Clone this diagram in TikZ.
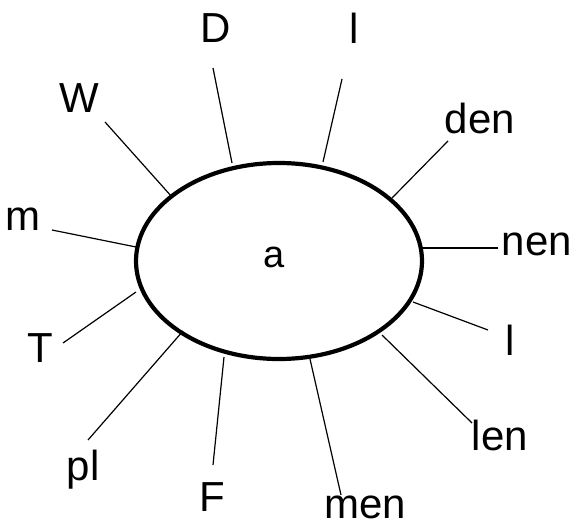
\documentclass[tikz,border=0pt]{standalone}
\usepackage{fontspec}
\setmainfont{Liberation Sans}
\usetikzlibrary{shapes.geometric}
\begin{document}
\begin{tikzpicture}[x=1pt,y=-1pt,
  lbl/.style={inner sep=0pt,font=\fontsize{42}{50}\selectfont},
  spoke/.style={line width=1.2pt},
  ring/.style={draw,ellipse,line width=4.2pt,minimum width=286pt,minimum height=196pt,inner sep=0pt}]
\useasboundingbox (0,0) rectangle (575,527);
\node[ring] (e) at (279,261) {};
\node[inner sep=0pt,font=\fontsize{38}{46}\selectfont] (a) at (274,257) {a};
% labels
\node[lbl] (D) at (216,28) {D};
\node[lbl] (l1) at (354,28) {l};
\node[lbl] (den) at (480,118) {den};
\node[lbl] (nen) at (537,244) {nen};
\node[lbl] (l2) at (510,340) {l};
\node[lbl] (len) at (500,435) {len};
\node[lbl] (men) at (365,507) {men};
\node[lbl] (F) at (212,497) {F};
\node[lbl] (pl) at (83,470) {pl};
\node[lbl] (T) at (40,348) {T};
\node[lbl] (m) at (23,219) {m};
\node[lbl] (W) at (79,98) {W};
% spoke ends
\coordinate (Do) at (213,68);  \coordinate (Di) at (232,163);
\coordinate (l1o) at (342,79); \coordinate (l1i) at (323,162);
\coordinate (deno) at (448,141); \coordinate (deni) at (392,198);
\coordinate (neno) at (498,248); \coordinate (neni) at (421,248);
\coordinate (l2o) at (488,330); \coordinate (l2i) at (413,302);
\coordinate (leno) at (472,423); \coordinate (leni) at (382,335);
\coordinate (meno) at (341,495); \coordinate (meni) at (310,359);
\coordinate (Fo) at (213,465); \coordinate (Fi) at (224,357);
\coordinate (plo) at (88,440); \coordinate (pli) at (183,331);
\coordinate (To) at (63,343); \coordinate (Ti) at (136,292);
\coordinate (mo) at (52,230); \coordinate (mi) at (136,247);
\coordinate (Wo) at (105,122); \coordinate (Wi) at (172,197);
\foreach \s in {D,l1,den,nen,l2,len,men,F,pl,T,m,W}
  \draw[spoke] (\s o) -- (\s i);
\end{tikzpicture}
\end{document}
